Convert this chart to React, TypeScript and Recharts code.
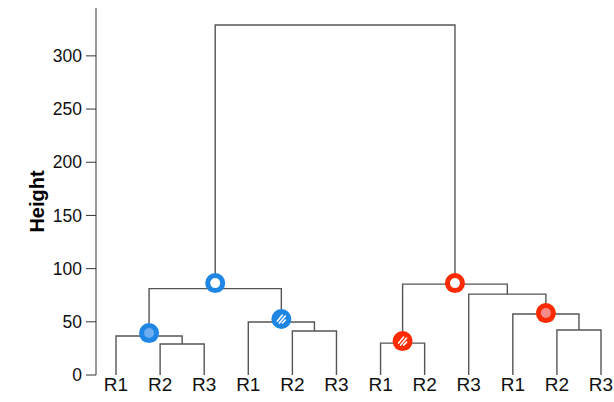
import { ComposedChart, Line, Scatter, XAxis, YAxis } from "recharts";

const leafLabels = ["R1", "R2", "R3", "R1", "R2", "R3", "R1", "R2", "R3", "R1", "R2", "R3"];

// hclust-style merge table: negative = leaf (1-based), positive = earlier merge
const mergeLeft = [-2, -1, -5, -4, 2, -7, -11, -10, -9, 6, 5];
const mergeRight = [-3, 1, -6, 3, 4, -8, -12, 7, 8, 9, 10];
const mergeHeights = [29.1, 36.6, 41.3, 49.8, 81.2, 30, 42.3, 57.3, 76, 85.4, 329];

// highlighted nodes (merge id) and where their circles sit
const markerNodes = [5, 2, 4, 10, 8, 6];
const markerHeights = [86.4, 39.4, 52.6, 86.4, 58.2, 31.9];
const markerGroups = ["blue", "blue", "blue", "red", "red", "red"];
const markerStyles = ["ring", "dot", "hatch", "ring", "dot", "hatch"];

const yTicks = [0, 50, 100, 150, 200, 250, 300];
const xTicks = leafLabels.map((_, i) => i + 1);

const PALETTE: Record<string, { main: string; light: string }> = {
  blue: { main: "#1f86e4", light: "#6eadef" },
  red: { main: "#ff2a00", light: "#f28b8b" },
};

type Pt = { x: number; y: number };

const nodeX: number[] = [];
const links: Pt[][] = [];
const childOf = (id: number): Pt =>
  id < 0 ? { x: -id, y: 0 } : { x: nodeX[id - 1], y: mergeHeights[id - 1] };

mergeLeft.forEach((l, i) => {
  const a = childOf(l);
  const b = childOf(mergeRight[i]);
  const h = mergeHeights[i];
  nodeX.push((a.x + b.x) / 2);
  links.push([
    { x: a.x, y: a.y },
    { x: a.x, y: h },
    { x: b.x, y: h },
    { x: b.x, y: b.y },
  ]);
});

const markers = markerNodes.map((n, i) => ({
  x: nodeX[n - 1],
  y: markerHeights[i],
  group: markerGroups[i],
  style: markerStyles[i],
}));

const FONT = "'Liberation Sans', Arial, sans-serif";

function Marker(props: any) {
  const { cx, cy, payload } = props;
  if (cx == null || cy == null) return null;
  const c = PALETTE[payload.group];
  if (payload.style === "ring") {
    return <circle cx={cx} cy={cy} r={7.5} fill="#fff" stroke={c.main} strokeWidth={5} />;
  }
  if (payload.style === "dot") {
    return (
      <g>
        <circle cx={cx} cy={cy} r={10} fill={c.main} />
        <circle cx={cx} cy={cy} r={5} fill={c.light} />
      </g>
    );
  }
  return (
    <g>
      <circle cx={cx} cy={cy} r={10} fill={c.main} />
      <g stroke="#fff" strokeWidth={1.6} strokeLinecap="round">
        <line x1={cx - 4} y1={cy + 2} x2={cx + 1} y2={cy - 4} />
        <line x1={cx - 2} y1={cy + 4} x2={cx + 4} y2={cy - 3} />
        <line x1={cx + 1} y1={cy + 4} x2={cx + 4} y2={cy + 1} />
      </g>
    </g>
  );
}

export default function App() {
  return (
    <div style={{ position: "absolute", left: 0, top: 0, background: "#fff" }}>
      <ComposedChart
        width={614}
        height={402}
        margin={{ top: 8, right: 4, bottom: 0, left: 0 }}
      >
        <XAxis
          type="number"
          dataKey="x"
          domain={[0.546, 12.204]}
          ticks={xTicks}
          tickFormatter={(v: number) => leafLabels[v - 1] ?? ""}
          axisLine={false}
          tickLine={false}
          tickSize={0}
          tickMargin={3}
          height={27}
          interval={0}
          tick={{ fontSize: 19, fill: "#111", fontFamily: FONT }}
        />
        <YAxis
          type="number"
          dataKey="y"
          domain={[0, 345]}
          ticks={yTicks}
          width={96}
          tickSize={10}
          tickMargin={4}
          axisLine={{ stroke: "#333", strokeWidth: 1 }}
          tickLine={{ stroke: "#333", strokeWidth: 1 }}
          tick={{ fontSize: 17.5, fill: "#111", fontFamily: FONT }}
          label={({ viewBox }: any) => {
            const x = viewBox.x + 37;
            const y = viewBox.y + viewBox.height / 2 + 10;
            return (
              <text
                x={x}
                y={y}
                transform={`rotate(-90 ${x} ${y})`}
                textAnchor="middle"
                dominantBaseline="central"
                fontFamily={FONT}
                fontWeight="bold"
                fontSize={20}
                fill="#000"
              >
                Height
              </text>
            );
          }}
        />
        {links.map((pts, i) => (
          <Line
            key={`link-${i}`}
            data={pts}
            dataKey="y"
            type="linear"
            stroke="#555"
            strokeWidth={1.4}
            dot={false}
            activeDot={false}
            isAnimationActive={false}
          />
        ))}
        <Scatter data={markers} shape={Marker} isAnimationActive={false} />
      </ComposedChart>
    </div>
  );
}
